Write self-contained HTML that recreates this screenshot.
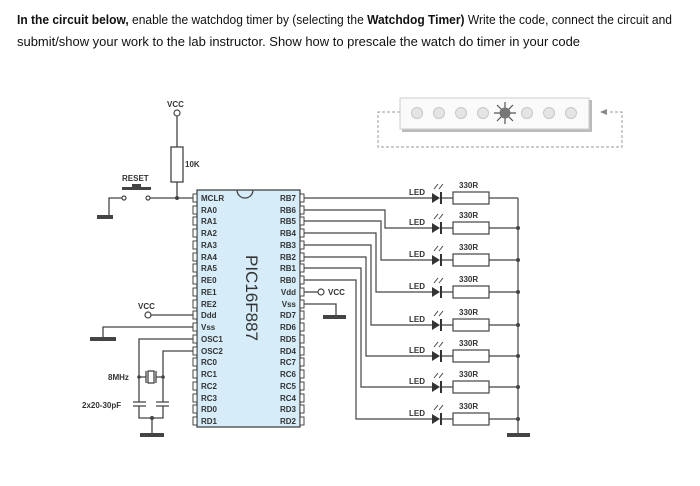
<!DOCTYPE html>
<html><head><meta charset="utf-8"><style>
body{margin:0;background:#fff;width:700px;height:486px;overflow:hidden}
svg{display:block}
.t{font-family:"Liberation Sans",sans-serif;font-weight:bold;font-size:8px;fill:#333}
</style></head><body>
<svg width="700" height="486" viewBox="0 0 700 486" xmlns="http://www.w3.org/2000/svg">
<text x="17" y="24" font-family="Liberation Sans Narrow, Liberation Sans, sans-serif" font-size="13" fill="#111" textLength="655" lengthAdjust="spacingAndGlyphs"><tspan font-weight="bold">In the circuit below,</tspan> enable the watchdog timer by (selecting the <tspan font-weight="bold">Watchdog Timer)</tspan> Write the code, connect the circuit and</text>
<text x="17" y="46" font-family="Liberation Sans Narrow, Liberation Sans, sans-serif" font-size="13" fill="#111" textLength="563" lengthAdjust="spacingAndGlyphs">submit/show your work to the lab instructor. Show how to prescale the watch do timer in your code</text>

<g stroke="#999" stroke-dasharray="3,2" fill="none" stroke-width="1">
<path d="M400 112 H378 V147 H622 V112 H608"/>
</g>
<path d="M600 112 L607 109 L607 115 Z" fill="#888"/>
<rect x="402" y="100" width="190" height="32" fill="#bbb"/>
<rect x="400" y="98" width="189" height="31" fill="#fafafa" stroke="#ccc"/>
<g fill="#e4e4e4" stroke="#c8c8c8">
<circle cx="417" cy="113" r="5.5"/><circle cx="439" cy="113" r="5.5"/><circle cx="461" cy="113" r="5.5"/><circle cx="483" cy="113" r="5.5"/>
<circle cx="527" cy="113" r="5.5"/><circle cx="549" cy="113" r="5.5"/><circle cx="571" cy="113" r="5.5"/>
</g>
<g stroke="#555" stroke-width="1.2"><path d="M494 113H516M505 102V124M497 105L513 121M513 105L497 121"/></g>
<circle cx="505" cy="113" r="5.5" fill="#777"/>

<g stroke="#444" stroke-width="1.3" fill="none">
<path d="M177 116 V147 M177 182 V198 M150 198 H194"/>
<rect x="171" y="147" width="12" height="35"/>
<path d="M124 198 H109 V216"/>
<path d="M151 315 H194"/>
<path d="M194 327 H103 V338"/>
<path d="M194 339 H139 V402 M194 351 H163 V402"/>
<path d="M139 377 H146 M156 377 H163"/>
<rect x="148" y="371" width="6" height="12"/>
<path d="M146 371 V383 M156 371 V383"/>
<path d="M133 402 H146 M133 406 H146 M156 402 H169 M156 406 H169"/>
<path d="M139 406 V418 H163 V406 M152 418 V434"/>
<path d="M303 292 H318"/>
<path d="M303 304 H336 V316"/>
</g>
<g fill="#444">
<rect x="122" y="187" width="29" height="3"/>
<rect x="132" y="184" width="9" height="3"/>
<circle cx="177" cy="198" r="2"/>
<circle cx="139" cy="377" r="1.8"/><circle cx="163" cy="377" r="1.8"/><circle cx="152" cy="418" r="2"/>
<rect x="97" y="215" width="16" height="4"/>
<rect x="90" y="337" width="26" height="4"/>
<rect x="140" y="433" width="24" height="4"/>
<rect x="323" y="315" width="23" height="4"/>
<rect x="507" y="433" width="23" height="4"/>
</g>
<g fill="#fff" stroke="#444" stroke-width="1.2">
<circle cx="177" cy="113" r="3"/>
<circle cx="124" cy="198" r="2"/><circle cx="148" cy="198" r="2"/>
<circle cx="148" cy="315" r="3"/>
<circle cx="321" cy="292" r="3"/>
</g>
<text class="t" x="167" y="107">VCC</text>
<text class="t" x="185" y="167">10K</text>
<text class="t" x="122" y="181">RESET</text>
<text class="t" x="138" y="309">VCC</text>
<text class="t" x="328" y="295">VCC</text>
<text class="t" x="108" y="380">8MHz</text>
<text class="t" x="82" y="408">2x20-30pF</text>

<rect x="197" y="190" width="103" height="237" fill="#d6ecf8" stroke="#444" stroke-width="1.3"/>
<path d="M237 190 A8 8 0 0 0 253 190" fill="none" stroke="#444" stroke-width="1.3"/>
<text x="0" y="0" transform="translate(246,255) rotate(90)" font-family="Liberation Sans,sans-serif" font-size="17" fill="#333">PIC16F887</text>
<g class="t" font-size="7.5">
<text x="201" y="201">MCLR</text><text x="201" y="213">RA0</text><text x="201" y="224">RA1</text><text x="201" y="236">RA2</text><text x="201" y="248">RA3</text><text x="201" y="260">RA4</text><text x="201" y="271">RA5</text><text x="201" y="283">RE0</text><text x="201" y="295">RE1</text><text x="201" y="307">RE2</text><text x="201" y="318">Ddd</text><text x="201" y="330">Vss</text><text x="201" y="342">OSC1</text><text x="201" y="354">OSC2</text><text x="201" y="365">RC0</text><text x="201" y="377">RC1</text><text x="201" y="389">RC2</text><text x="201" y="401">RC3</text><text x="201" y="412">RD0</text><text x="201" y="424">RD1</text>
</g>
<g class="t" font-size="7.5" text-anchor="end">
<text x="296" y="201">RB7</text><text x="296" y="213">RB6</text><text x="296" y="224">RB5</text><text x="296" y="236">RB4</text><text x="296" y="248">RB3</text><text x="296" y="260">RB2</text><text x="296" y="271">RB1</text><text x="296" y="283">RB0</text><text x="296" y="295">Vdd</text><text x="296" y="307">Vss</text><text x="296" y="318">RD7</text><text x="296" y="330">RD6</text><text x="296" y="342">RD5</text><text x="296" y="354">RD4</text><text x="296" y="365">RC7</text><text x="296" y="377">RC6</text><text x="296" y="389">RC5</text><text x="296" y="401">RC4</text><text x="296" y="412">RD3</text><text x="296" y="424">RD2</text>
</g>
<g fill="#fff" stroke="#444" stroke-width="1">
<rect x="193" y="194" width="4" height="8"/><rect x="193" y="206" width="4" height="8"/><rect x="193" y="217" width="4" height="8"/><rect x="193" y="229" width="4" height="8"/><rect x="193" y="241" width="4" height="8"/><rect x="193" y="253" width="4" height="8"/><rect x="193" y="264" width="4" height="8"/><rect x="193" y="276" width="4" height="8"/><rect x="193" y="288" width="4" height="8"/><rect x="193" y="300" width="4" height="8"/><rect x="193" y="311" width="4" height="8"/><rect x="193" y="323" width="4" height="8"/><rect x="193" y="335" width="4" height="8"/><rect x="193" y="347" width="4" height="8"/><rect x="193" y="358" width="4" height="8"/><rect x="193" y="370" width="4" height="8"/><rect x="193" y="382" width="4" height="8"/><rect x="193" y="394" width="4" height="8"/><rect x="193" y="405" width="4" height="8"/><rect x="193" y="417" width="4" height="8"/>
<rect x="300" y="194" width="4" height="8"/><rect x="300" y="206" width="4" height="8"/><rect x="300" y="217" width="4" height="8"/><rect x="300" y="229" width="4" height="8"/><rect x="300" y="241" width="4" height="8"/><rect x="300" y="253" width="4" height="8"/><rect x="300" y="264" width="4" height="8"/><rect x="300" y="276" width="4" height="8"/><rect x="300" y="288" width="4" height="8"/><rect x="300" y="300" width="4" height="8"/><rect x="300" y="311" width="4" height="8"/><rect x="300" y="323" width="4" height="8"/><rect x="300" y="335" width="4" height="8"/><rect x="300" y="347" width="4" height="8"/><rect x="300" y="358" width="4" height="8"/><rect x="300" y="370" width="4" height="8"/><rect x="300" y="382" width="4" height="8"/><rect x="300" y="394" width="4" height="8"/><rect x="300" y="405" width="4" height="8"/><rect x="300" y="417" width="4" height="8"/>
</g>

<g stroke="#444" stroke-width="1.2" fill="none">
<path d="M304 198 H432"/>
<path d="M304 210 H385 V228 H432"/>
<path d="M304 221 H381 V260 H432"/>
<path d="M304 233 H376 V292 H432"/>
<path d="M304 245 H371 V325 H432"/>
<path d="M304 257 H366 V356 H432"/>
<path d="M304 268 H361 V387 H432"/>
<path d="M304 280 H356 V419 H432"/>
<path d="M518 198 V434"/>
</g>

<g>
<g transform="translate(0,198)">
<path d="M441 0 H453 M489 0 H518" stroke="#444" stroke-width="1.2"/>
<path d="M432 -5 L440 0 L432 5 Z" fill="#333"/><rect x="440" y="-6" width="2" height="12" fill="#333"/>
<path d="M434 -9 L438 -14 M439 -9 L443 -14" stroke="#444" stroke-width="1"/>
<rect x="453" y="-6" width="36" height="12" fill="#fff" stroke="#444" stroke-width="1.2"/>
<text class="t" x="409" y="-3">LED</text><text class="t" x="459" y="-10">330R</text>
</g>
<g transform="translate(0,228)">
<path d="M441 0 H453 M489 0 H518" stroke="#444" stroke-width="1.2"/>
<path d="M432 -5 L440 0 L432 5 Z" fill="#333"/><rect x="440" y="-6" width="2" height="12" fill="#333"/>
<path d="M434 -9 L438 -14 M439 -9 L443 -14" stroke="#444" stroke-width="1"/>
<rect x="453" y="-6" width="36" height="12" fill="#fff" stroke="#444" stroke-width="1.2"/>
<text class="t" x="409" y="-3">LED</text><text class="t" x="459" y="-10">330R</text>
<circle cx="518" cy="0" r="2" fill="#444"/>
</g>
<g transform="translate(0,260)">
<path d="M441 0 H453 M489 0 H518" stroke="#444" stroke-width="1.2"/>
<path d="M432 -5 L440 0 L432 5 Z" fill="#333"/><rect x="440" y="-6" width="2" height="12" fill="#333"/>
<path d="M434 -9 L438 -14 M439 -9 L443 -14" stroke="#444" stroke-width="1"/>
<rect x="453" y="-6" width="36" height="12" fill="#fff" stroke="#444" stroke-width="1.2"/>
<text class="t" x="409" y="-3">LED</text><text class="t" x="459" y="-10">330R</text>
<circle cx="518" cy="0" r="2" fill="#444"/>
</g>
<g transform="translate(0,292)">
<path d="M441 0 H453 M489 0 H518" stroke="#444" stroke-width="1.2"/>
<path d="M432 -5 L440 0 L432 5 Z" fill="#333"/><rect x="440" y="-6" width="2" height="12" fill="#333"/>
<path d="M434 -9 L438 -14 M439 -9 L443 -14" stroke="#444" stroke-width="1"/>
<rect x="453" y="-6" width="36" height="12" fill="#fff" stroke="#444" stroke-width="1.2"/>
<text class="t" x="409" y="-3">LED</text><text class="t" x="459" y="-10">330R</text>
<circle cx="518" cy="0" r="2" fill="#444"/>
</g>
<g transform="translate(0,325)">
<path d="M441 0 H453 M489 0 H518" stroke="#444" stroke-width="1.2"/>
<path d="M432 -5 L440 0 L432 5 Z" fill="#333"/><rect x="440" y="-6" width="2" height="12" fill="#333"/>
<path d="M434 -9 L438 -14 M439 -9 L443 -14" stroke="#444" stroke-width="1"/>
<rect x="453" y="-6" width="36" height="12" fill="#fff" stroke="#444" stroke-width="1.2"/>
<text class="t" x="409" y="-3">LED</text><text class="t" x="459" y="-10">330R</text>
<circle cx="518" cy="0" r="2" fill="#444"/>
</g>
<g transform="translate(0,356)">
<path d="M441 0 H453 M489 0 H518" stroke="#444" stroke-width="1.2"/>
<path d="M432 -5 L440 0 L432 5 Z" fill="#333"/><rect x="440" y="-6" width="2" height="12" fill="#333"/>
<path d="M434 -9 L438 -14 M439 -9 L443 -14" stroke="#444" stroke-width="1"/>
<rect x="453" y="-6" width="36" height="12" fill="#fff" stroke="#444" stroke-width="1.2"/>
<text class="t" x="409" y="-3">LED</text><text class="t" x="459" y="-10">330R</text>
<circle cx="518" cy="0" r="2" fill="#444"/>
</g>
<g transform="translate(0,387)">
<path d="M441 0 H453 M489 0 H518" stroke="#444" stroke-width="1.2"/>
<path d="M432 -5 L440 0 L432 5 Z" fill="#333"/><rect x="440" y="-6" width="2" height="12" fill="#333"/>
<path d="M434 -9 L438 -14 M439 -9 L443 -14" stroke="#444" stroke-width="1"/>
<rect x="453" y="-6" width="36" height="12" fill="#fff" stroke="#444" stroke-width="1.2"/>
<text class="t" x="409" y="-3">LED</text><text class="t" x="459" y="-10">330R</text>
<circle cx="518" cy="0" r="2" fill="#444"/>
</g>
<g transform="translate(0,419)">
<path d="M441 0 H453 M489 0 H518" stroke="#444" stroke-width="1.2"/>
<path d="M432 -5 L440 0 L432 5 Z" fill="#333"/><rect x="440" y="-6" width="2" height="12" fill="#333"/>
<path d="M434 -9 L438 -14 M439 -9 L443 -14" stroke="#444" stroke-width="1"/>
<rect x="453" y="-6" width="36" height="12" fill="#fff" stroke="#444" stroke-width="1.2"/>
<text class="t" x="409" y="-3">LED</text><text class="t" x="459" y="-10">330R</text>
<circle cx="518" cy="0" r="2" fill="#444"/>
</g>
</g>
</svg>
</body></html>
